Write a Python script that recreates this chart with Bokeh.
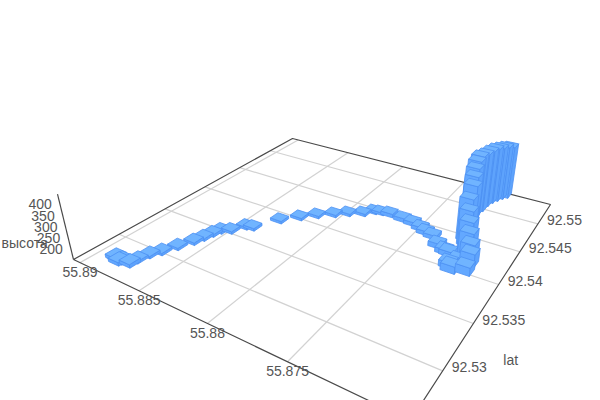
import numpy as np
from bokeh.plotting import figure
from bokeh.models import Range1d, ColumnDataSource
from bokeh.core.properties import value
from bokeh.embed import file_html
from bokeh.resources import INLINE

lon_x = [55.88873,55.88825,55.88818,55.88754,55.88748,55.88729,55.88693,55.88653,55.88611,55.88592,55.88577,55.88559,55.88505,55.88457,55.88411,55.88319,55.88231,55.88151,55.88063,55.87991,55.87906,55.87857,55.87811,55.87747,55.87644,55.87566,55.87496,55.87448,55.87391,55.87322,55.87260,55.87231,55.87153,55.87182,55.87157,55.87078,55.87087,55.87108,55.87132,55.87159,55.87184,55.87209,55.87215,55.87239,55.87262,55.87277,55.87281,55.87272,55.87267,55.87254,55.87235,55.87215,55.87191]
lat_y = [92.52772,92.52748,92.52769,92.52775,92.52843,92.52940,92.53019,92.53137,92.53259,92.53346,92.53431,92.53502,92.53546,92.53662,92.53681,92.53894,92.54026,92.54133,92.54226,92.54306,92.54376,92.54458,92.54475,92.54486,92.54469,92.54454,92.54416,92.54380,92.54354,92.54250,92.54200,92.54190,92.54125,92.54038,92.53997,92.54032,92.54148,92.54210,92.54255,92.54333,92.54400,92.54467,92.54553,92.54647,92.54744,92.54833,92.54912,92.55004,92.55116,92.55195,92.55256,92.55317,92.55361]
height = [166,166,166,166,161,161,161,161,162,162,162,162,162,162,162,162,162,162,162,162,162,162,162,167,168,168,168,168,168,172,172,172,172,178,182,187,210,229,262,286,315,348,387,403,416,428,435,428,421,419,415,411,407]
x_ticks = [55.89,55.885,55.88,55.875]
y_ticks = [92.55,92.545,92.54,92.535,92.53]
z_ticks = [200,250,300,350,400]
y_name, z_name = "lat", "высота"

A=(73,259);B=(410,420);C=(550,204);D=(292,138)
LATA,LATB=55.8906,55.8687
LONB,LONC=92.5257,92.554
ZMIN,ZMAX=150,440
VP=(340,1350);L=-0.0565
SIZE_LAT,SIZE_LON=0.00088,0.00105
TOP,SIDE1,SIDE2,EDGE="#70b4ff","#63a8ff","#5ea3fc","#4d90f2"
def homog():
    (x0,y0),(x1,y1),(x2,y2),(x3,y3)=A,B,C,D
    dx1,dx2,sx=x1-x2,x3-x2,x0-x1+x2-x3
    dy1,dy2,sy=y1-y2,y3-y2,y0-y1+y2-y3
    g,h=np.linalg.solve(np.array([[dx1,dx2],[dy1,dy2]],float),[sx,sy])
    return np.array([[x1-x0+g*x1,x3-x0+h*x3,x0],[y1-y0+g*y1,y3-y0+h*y3,y0],[g,h,1.0]])
H=homog()
def proj(la,lo,z=ZMIN):
    u=(LATA-la)/(LATA-LATB); v=(lo-LONB)/(LONC-LONB); w=(z-ZMIN)/(ZMAX-ZMIN)
    q=H@np.array([u,v,1.0])+w*L*np.array([VP[0],VP[1],1.0])
    return q[0]/q[2],q[1]/q[2],q[2]

p=figure(width=600,height=400,x_range=Range1d(0,600),y_range=Range1d(400,0),
         output_backend="svg",toolbar_location=None,min_border=0,outline_line_color=None,
         x_axis_type=None,y_axis_type=None,background_fill_color="white")
p.xgrid.visible=False;p.ygrid.visible=False
GRID="#d2d2d2"
for t in x_ticks:
    a=proj(t,LONB);b=proj(t,LONC)
    p.line([a[0],b[0]],[a[1],b[1]],line_color=GRID,line_width=1.2)
for t in y_ticks:
    a=proj(LATA,t);b=proj(LATB,t)
    p.line([a[0],b[0]],[a[1],b[1]],line_color=GRID,line_width=1.2)
fr=[proj(LATA,LONB),proj(LATB,LONB),proj(LATB,LONC),proj(LATA,LONC),proj(LATA,LONB)]
p.line([f[0] for f in fr],[f[1] for f in fr],line_color="#4a4a4a",line_width=1.2)
za=proj(LATA,LONB,ZMIN);zb=proj(LATA,LONB,ZMAX)
p.line([za[0],zb[0]],[za[1],zb[1]],line_color="#4a4a4a",line_width=1.2)
order=sorted(range(len(height)),key=lambda i:-proj(lon_x[i],lat_y[i])[2])
xs=[];ys=[];cols=[]
for i in order:
    la0,la1=lon_x[i]+SIZE_LAT/2,lon_x[i]-SIZE_LAT/2
    lo0,lo1=lat_y[i]-SIZE_LON/2,lat_y[i]+SIZE_LON/2
    z=height[i]
    faces=[([(la0,lo0,ZMIN),(la1,lo0,ZMIN),(la1,lo0,z),(la0,lo0,z)],SIDE1),
           ([(la1,lo0,ZMIN),(la1,lo1,ZMIN),(la1,lo1,z),(la1,lo0,z)],SIDE2),
           ([(la0,lo0,z),(la1,lo0,z),(la1,lo1,z),(la0,lo1,z)],TOP)]
    for pts,c in faces:
        P=[proj(*q) for q in pts]
        xs.append([q[0] for q in P]);ys.append([q[1] for q in P]);cols.append(c)
p.patches("xs","ys",source=ColumnDataSource(dict(xs=xs,ys=ys,c=cols)),fill_color="c",line_color=EDGE,line_width=0.8)
F=value("Liberation Sans");S=value("14px");TC="#555555"
lx=[];ly=[]
for t in x_ticks:
    a=proj(t,LONB);lx.append(a[0]);ly.append(a[1]+9.5)
p.text(lx,ly,text=[str(t) for t in x_ticks],text_font=F,text_font_size=S,text_color=TC,text_align="center",text_baseline="middle")
lx=[];ly=[]
for t in y_ticks:
    a=proj(LATB,t);lx.append(a[0]+9);ly.append(a[1]-3.5)
p.text(lx,ly,text=[str(t) for t in y_ticks],text_font=F,text_font_size=S,text_color=TC,text_align="left",text_baseline="middle")
lx=[];ly=[]
for t in z_ticks:
    a=proj(LATA,LONB,t);lx.append(a[0]-8);ly.append(a[1]+0.5)
p.text(lx,ly,text=[str(t) for t in z_ticks],text_font=F,text_font_size=S,text_color=TC,text_align="right",text_baseline="middle")
a=proj(LATB,92.532)
p.text([a[0]+55],[a[1]+9],text=[y_name],text_font=F,text_font_size=S,text_color=TC,text_align="center",text_baseline="middle")
a=proj(LATA,LONB,240)
p.text([1],[a[1]+3],text=[z_name],text_font=F,text_font_size=S,text_color=TC,text_align="left",text_baseline="middle")
open("out.html","w").write(file_html(p,INLINE))
